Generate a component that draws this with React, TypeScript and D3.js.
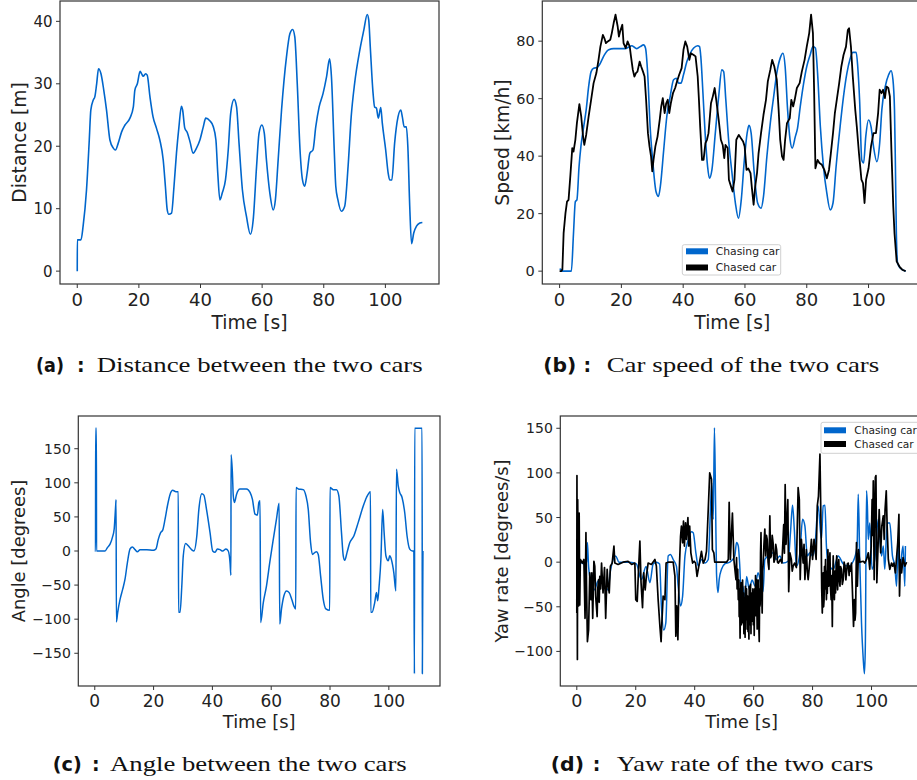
import React from 'react';
import * as d3 from 'd3';

type P = [number, number];

const BLUE = '#0066cc';
const BLACK = '#000000';
const AXIS = '#333333';

const xTicks = [0, 20, 40, 60, 80, 100];
const xDomain: P = [-5.6, 117.4];

const distTicks = [0, 10, 20, 30, 40];
const speedTicks = [0, 20, 40, 60, 80];
const angleTicks = [-150, -100, -50, 0, 50, 100, 150];
const yawTicks = [-100, -50, 0, 50, 100, 150];

const legendLabels = ['Chasing car', 'Chased car'];

const distance: P[] = [[0,0],[0.02,5],[1.2,5],[1.9,7.2],[3,13],[3.9,21],[4.4,25.8],[5.2,27.4],[5.7,27.9],[6.3,30],[6.9,32.4],[7.7,31.6],[8.6,29],[9.5,25.8],[10.6,21],[11.7,19.7],[12.4,19.4],[13.3,20.5],[14.4,22.3],[15.5,23.4],[17.1,24.5],[18.2,26.3],[18.7,29],[19.5,30],[20.4,32],[20.9,31.6],[21.4,31.2],[22.2,31.6],[22.7,31.4],[23.6,27.9],[24.6,24.7],[25.7,22.9],[26.8,21],[27.9,17.8],[28.6,13.6],[29.2,9.8],[29.7,9.1],[30.6,9.3],[31.4,13.6],[32.2,18.9],[33,23.1],[33.8,26.4],[34.2,25.8],[34.9,22.9],[35.7,22.2],[36.6,20.7],[37.6,18.9],[38.7,19.7],[39.8,21],[40.9,23.1],[41.7,24.5],[43,24.1],[44.1,23.2],[45,21],[45.6,15.7],[46.3,11.4],[47.1,12.6],[48.1,14.6],[49,19.4],[49.8,25.3],[50.9,27.5],[51.7,26.3],[52.5,20.5],[53.6,13],[54.9,8.8],[56.2,5.9],[57.1,8.2],[58.2,16.8],[59,22.1],[59.9,23.4],[60.7,22.1],[61.4,17.8],[62.5,12.5],[63.6,9.8],[64.3,11.4],[65.2,17.8],[66.3,25.8],[67.9,34.3],[69,38],[69.9,38.7],[70.6,37.5],[71.4,30],[72.3,19.4],[73.1,14.6],[73.8,13.6],[74.6,15.7],[75.5,18.9],[76.5,19.4],[77.4,23.1],[78.5,26.3],[79.8,28.5],[80.9,31.1],[81.9,34],[82.5,31.1],[83.4,19.4],[83.9,13.6],[84.6,11.4],[85.7,9.6],[86.8,10.4],[87.9,16.8],[88.9,24.7],[90,30],[91.7,35.4],[93,38.6],[94.1,41.1],[94.6,40.2],[95.1,35.9],[96,28.5],[96.5,26.3],[97.1,26.1],[97.7,24.5],[98.5,26.2],[99,23.7],[100.1,19.4],[100.9,15.7],[101.4,14.6],[102.1,14.6],[103,20.5],[104.1,24.7],[105,25.8],[105.5,24.7],[106.1,23.1],[106.8,23.1],[107.3,19.8],[107.9,10.4],[108.5,4.4],[109.2,6.1],[110.1,7.2],[111.2,7.7],[112,7.8]];

const speedChasing: P[] = [[0,0.7],[0.6,0.5],[0.8,0],[3.8,0],[4.5,13.2],[5.1,24.2],[5.6,24.8],[6.3,36.4],[6.9,43.4],[7.8,50.3],[8.6,56.1],[9.4,64.2],[10.2,69.4],[11,70.6],[12.1,70.8],[12.9,71.8],[13.7,73.5],[14.5,75.2],[15.9,77],[17.5,77.4],[19.6,77.4],[21.3,77.4],[22.3,77.9],[23.4,78.4],[24.2,77.9],[25,77.4],[26.1,78.1],[27.2,78.7],[27.8,77.6],[28.5,68.9],[29.3,50.3],[30.2,37.6],[31.2,27.7],[32,26],[32.6,29.4],[33.7,42.2],[34.7,53.8],[35.8,60.8],[36.9,66.6],[37.8,67.1],[38.5,65.4],[39.3,65.4],[40.1,68.3],[41.2,72.9],[42.3,75.8],[43.4,77.6],[44.7,78.4],[45.3,78.1],[45.7,74.7],[46.4,61.9],[47.1,48],[47.9,36.4],[48.5,32.3],[49.3,35.2],[50.4,48],[51.5,60.8],[52.5,70],[53.1,69.4],[53.8,59.6],[54.7,45.7],[55.8,34.1],[56.9,23.7],[57.9,18.4],[58.8,24.8],[59.8,38.7],[60.7,48],[61.3,50.7],[62,48],[63,34.1],[64.1,23.7],[65.2,21.9],[66,26],[67.1,39.9],[68.2,51.5],[69.3,60.8],[70.3,68.9],[71.4,74.1],[72.3,75.8],[73,71.2],[73.8,56.1],[74.6,45.7],[75.3,42.8],[76.3,46.8],[77,49.7],[77.9,57.3],[79,65.4],[80,71.2],[81.1,75.2],[82,78.1],[82.8,77.6],[83.5,68.9],[84.4,50.3],[85.4,36.4],[86.5,27.1],[87.6,21.3],[88.5,23.7],[89.5,36.4],[90.8,50.3],[91.9,60.8],[93,68.9],[94,73.7],[94.9,76.1],[96,76.1],[96.5,71.2],[97.1,59.6],[97.8,38.7],[98.4,37.6],[99.1,46.8],[100,52.6],[100.8,50.3],[101.6,43.4],[102.7,38.1],[103.6,44.5],[104.3,56.1],[105.4,64.2],[106.5,68.3],[107.3,69.7],[107.9,66.6],[108.4,56.1],[108.7,36.4],[109,13.2],[109.4,2.8],[110.3,1],[112,0]];

const speedChased: P[] = [[0,0],[0.5,0],[0.9,0.5],[1.3,13.2],[1.9,20.2],[2.4,24.2],[2.9,24.8],[3.5,33.5],[4.1,42.8],[4.5,41.6],[5.1,45.7],[5.6,51.5],[6.4,58.1],[7,53.8],[7.6,46.8],[8,43.9],[8.6,47.4],[9.4,53.8],[10.2,59.6],[11,65.4],[11.9,68.9],[12.6,73.5],[13.2,78.1],[14,82.2],[14.5,81],[15,79.3],[15.6,79.9],[16.4,80.5],[16.9,82.8],[17.5,86.3],[18.1,89.2],[18.8,85.1],[19.2,81.6],[19.6,83.4],[20.3,85.7],[20.7,79.3],[21.4,77.6],[22,79.9],[22.7,78.1],[23.1,74.7],[23.7,70],[24.2,67.7],[24.7,68.9],[25.2,69.4],[25.9,72.9],[26.4,71.2],[27,69.4],[27.5,67.7],[28,59.6],[28.6,48],[29.1,43.4],[29.6,39.9],[30,34.7],[30.4,38.7],[31,43.4],[31.7,46.8],[32.4,52.6],[32.9,57.3],[33.4,60.2],[34,55],[34.5,58.4],[35,59.6],[35.5,55],[36,58.4],[36.7,61.9],[37.4,63.7],[38,66],[38.7,68.3],[39.5,70.6],[40.1,77],[40.7,79.9],[41.3,78.1],[42,73.5],[42.5,75.8],[43.4,75.2],[44,74.7],[44.7,67.7],[45.1,59.6],[45.5,50.3],[46.1,38.7],[46.6,38.7],[47.2,44.5],[47.7,45.7],[48.2,48],[49,58.4],[49.6,60.8],[50.2,63.7],[50.7,59.6],[51.5,52.6],[52.2,45.7],[52.8,43.9],[53.3,39.3],[53.7,43.9],[54.4,42.8],[54.8,31.8],[55.5,29.4],[56,27.7],[56.6,31.8],[57.2,45.7],[58,47.4],[58.7,46.2],[59.4,45.1],[59.9,43.4],[60.5,35.2],[61.1,35.7],[61.8,34.1],[62.2,29.4],[62.8,23.1],[63.3,29.4],[63.9,34.1],[64.4,41],[65.2,48],[66,54.4],[66.8,59.6],[67.4,66],[68.2,70],[68.8,73.5],[69.5,71.2],[70.3,66.6],[70.9,56.1],[71.4,45.7],[72,39.9],[72.5,38.7],[73,45.7],[73.6,51.5],[74.5,53.2],[75,59.6],[75.6,57.3],[76.1,59.6],[76.8,63.7],[77.7,65.4],[78.4,69.4],[79.3,73.5],[80,78.1],[80.8,82.8],[81.4,89.2],[82,82.8],[82.4,61.9],[82.8,35.8],[83.5,38.7],[84.1,37.6],[84.9,37],[85.7,35.2],[86.5,32.3],[87.2,35.2],[87.8,41],[88.5,48],[89.1,55],[89.8,60.2],[90.5,65.4],[91.2,71.2],[91.9,75.2],[92.7,78.1],[93.3,83.9],[93.7,84.5],[94.3,78.1],[94.9,67.7],[95.7,56.1],[96.2,50.3],[96.9,41],[97.7,31.8],[98.2,30.6],[98.7,23.7],[99.2,31.8],[100,35.8],[100.8,43.4],[101.6,48],[102.4,48],[103.1,55],[103.6,63.1],[104.2,61.9],[104.7,63.1],[105.3,60.2],[105.8,64.2],[106.4,63.7],[106.9,60.8],[107.4,42.2],[108,22.5],[108.4,13.2],[109.1,3.4],[110,1.6],[110.9,0.5],[112,0]];

const angle: P[] = [[0,0],[0.25,0],[0.3,180],[0.55,180],[0.6,0],[3.5,0],[4.3,5],[5.2,10],[6,20],[6.6,32],[6.9,51.6],[7.1,66],[7.25,75],[7.35,-104],[7.8,-90],[8.6,-71],[9.5,-56],[10.3,-41],[11.1,-17],[12,3],[12.8,6],[13.7,2],[14.5,-1],[15.4,2],[17.7,2],[19.9,1],[20.8,3],[21.6,17],[22.4,27],[23.1,30.6],[23.9,46.7],[24.7,66],[25.6,83],[26.5,89],[27.6,87],[28.4,87],[28.5,-90],[29,-90],[29.6,-51],[30.1,-7],[30.9,11],[31.8,7.6],[33,1.7],[33.7,0],[34.7,22],[35.4,61],[36.4,84],[37.1,82],[38,61],[39.2,27],[40.1,0],[40.9,-2],[41.7,3],[42.6,2],[43.5,0],[44.6,3],[45.4,0],[46,-17],[46.3,-35.5],[46.35,141],[46.8,115],[47.1,81],[47.5,71],[48.2,83],[49.4,91],[51.6,91],[52.8,86],[53.6,76],[54.5,54],[55.3,52.6],[55.8,71],[56.2,73.6],[56.4,-105],[57.3,-76],[58.4,-51],[59.5,-17],[60.7,17],[61.8,47],[62.7,70],[62.9,-107],[63.5,-85],[64.3,-66],[65.2,-58.5],[66.1,-61],[67,-71],[67.7,-80.5],[68.35,-85],[68.45,93],[69.2,91],[70.9,90],[71.8,81],[72.6,61],[73.4,12],[74,-5],[74.9,-2],[75.4,-1],[76,-5],[76.8,-36.5],[77.7,-71],[78.6,-85],[79.9,-87],[80,93],[81.1,90],[82.2,90],[83,81],[83.9,27],[84.5,-7],[85,-13.5],[85.8,-2],[86.7,12],[88.1,22],[89.6,42],[91.3,66],[92.4,78.5],[93.75,87],[93.85,-90],[94.3,-90],[95.2,-75.6],[95.8,-61],[96.2,-73],[96.7,-51],[97.3,-12],[97.9,61],[98.4,27],[99,-7],[99.8,-14.4],[100.3,-7],[100.9,-13],[101.7,-32],[102.4,-58.5],[102.6,120],[103.2,95.5],[103.7,86],[104.5,78.5],[105.4,56.5],[106.2,22],[107.1,2.7],[108,0],[108.5,0],[108.7,-180],[108.8,180],[111.3,180],[111.4,-180],[111.6,0]];

const yawChasing: P[] = [[0,0],[1,0],[2.5,-2],[3.3,0],[3.6,22],[4,-5],[5,-25],[6,-31],[7,-22],[7.8,-19.5],[9,-25],[10.5,-31],[11.5,-8],[13.2,7],[14.3,0],[16,0],[18,0],[20.2,-2],[21.9,-19.5],[23.5,-5],[24.8,-23],[25.9,-2],[27,0],[28.1,-2],[28.7,-49],[29.5,-76],[30.2,-68],[31,7],[31.8,8.6],[32.7,3],[33.8,-4.5],[34.4,-27],[35.2,-49],[35.9,-38],[36.7,7],[37.8,25],[38.9,34],[39.5,33],[40.4,10.5],[41.2,-4.5],[42.3,3],[43.4,-1],[44.6,3],[45.4,63],[45.8,89],[46.3,48],[46.7,150.7],[47.1,63],[47.4,-12],[47.9,-34],[48.3,-19.5],[49.1,-8],[50.2,-2],[51.9,0],[53.6,7],[54.2,22],[54.8,18],[55.3,-4.5],[55.9,-49],[56.4,-27],[57,-46],[57.6,-16],[58.5,-30],[59.5,-20],[60.5,-27],[61.5,-12],[62.5,-25],[63.2,-33],[63.8,3],[64.9,7],[66.6,10.5],[67.7,3],[68.9,7],[70,-1],[71.7,1],[72.5,33],[73.2,63.7],[73.8,37],[74.5,-4.5],[75.7,10.5],[76.6,48],[77.4,40.5],[78.2,7],[79.1,10.5],[80,7],[80.8,18],[81.9,63],[83,25.5],[83.6,63],[84.2,63.7],[84.7,18],[85.3,-2],[87,-8],[88.7,7],[90.4,-2],[92.1,-4.5],[93.8,1],[95.1,18],[95.5,76],[96,3],[96.6,-68],[97.2,-109],[97.6,-125],[97.9,-94],[98.3,80],[98.6,63],[98.9,25.5],[99.4,44],[100.2,-8],[101.1,3],[102.3,48],[103.4,7],[104,18],[104.5,-8],[105.3,44],[106.2,44],[107.1,7],[107.9,-4],[108.5,-27],[109,22],[109.6,-16],[110.2,7],[110.7,18],[111.3,-27],[111.5,18]];

const yawChased: P[] = [[0,-57],[0.05,97],[0.2,-109],[0.3,70],[0.6,-49],[0.8,55],[1,-48],[1.2,3],[1.9,-1],[2.4,3],[2.8,-63],[3.1,33],[3.3,-27],[3.6,-89],[4,-76],[4.4,-12],[4.8,-42],[5.1,-12],[5.4,-63],[5.8,1],[6.1,-4.5],[6.4,-38],[6.9,-61],[7.1,-30],[7.4,-19.5],[7.6,-45],[7.8,-16],[8.1,-30],[8.4,-1],[8.9,-34.5],[9.4,-6],[9.8,-63],[10.3,-8],[10.6,-25],[11,-34.5],[11.4,-4.5],[12,-1],[12.6,18],[12.9,-1],[14,-2.6],[15.7,0],[17.4,1],[18.6,-2.6],[19.7,-1],[20,-42],[20.5,-44],[20.9,-12],[21.4,23.6],[21.8,-23],[22.3,-51],[22.7,-12],[23.2,-31],[23.6,-16],[24.2,-1],[25.3,-2.6],[26.5,3],[27,-4.5],[27.6,-42],[28.2,-72],[28.6,-89],[28.8,-72],[29.3,-38],[29.9,-42],[30.3,-1],[31,0],[32.7,0],[33.3,-16],[33.6,-83],[33.9,-49],[34.3,-87],[34.7,-16],[35.2,29],[35.5,40.5],[35.9,21.7],[36.2,46],[36.5,18],[36.9,44],[37.2,25.5],[37.7,50],[38,18],[38.3,40.5],[38.7,10.5],[39.3,-1],[39.8,1],[40.3,-1],[40.8,-16],[41.4,-4.5],[42.3,12],[42.9,-1],[43.5,3],[44,12],[44.6,59],[45.1,100],[45.7,93],[46,14],[46.5,10.5],[46.8,0],[48.5,0],[50.8,0],[51.4,3],[51.7,67],[52.1,3],[52.8,55],[53.3,3],[54,-19.5],[54.2,5],[54.4,-30],[54.6,-8],[54.8,-42],[55,-20],[55.1,-61],[55.25,-30],[55.4,-85],[55.55,-40],[55.7,-23],[55.85,-70],[56,-35],[56.1,-68],[56.25,-20],[56.4,-55],[56.55,-34.5],[56.7,-80],[56.8,-72],[56.95,-40],[57.1,-84],[57.2,-27],[57.35,-60],[57.5,-64.5],[57.6,-30],[57.8,-75],[57.95,-38],[58.1,-77.6],[58.25,-45],[58.4,-86],[58.5,-27],[58.65,-70],[58.8,-61],[58.95,-25],[59.1,-80],[59.2,-34.5],[59.35,-50],[59.6,-66],[59.75,-30],[59.9,-70],[60.05,-38],[60.2,-82],[60.35,-30],[60.5,-57],[60.65,-15],[60.8,-60],[61,-19.5],[61.2,-75],[61.4,-46],[61.55,-20],[61.75,-70],[61.9,-89],[62.05,-30],[62.2,-49],[62.35,10],[62.5,33],[62.7,-30],[62.9,-57],[63.05,-10],[63.2,-4.5],[63.5,20],[63.8,37],[64.1,7],[64.35,30],[64.6,25.5],[64.9,0],[65.2,-8],[65.5,52],[65.75,5],[66,7],[66.3,30],[66.6,21.7],[66.9,0],[67.2,3],[67.5,20],[67.8,14],[68.1,0],[68.4,-1],[69.1,3],[69.6,-1],[70.2,42],[70.45,10],[70.7,87],[71,20],[71.2,37],[71.6,70],[71.9,-33],[72.3,10.5],[72.8,3],[73.1,-10],[73.4,-4.5],[73.9,-1],[74.5,-6],[75.1,83.6],[75.5,70],[75.8,-19.5],[76.2,25.5],[76.8,-1],[77.1,20],[77.4,-19.5],[77.9,14],[78.2,-10],[78.5,-19.5],[79,-1],[79.6,25.5],[80,3],[80.5,25.5],[81.2,3],[81.6,63],[82,74],[82.5,121],[82.9,33],[83.1,-30],[83.3,-57],[83.45,-20],[83.6,-12],[83.75,-50],[83.9,-42],[84.05,-5],[84.2,-30],[84.4,3],[84.55,-25],[84.7,-42],[84.85,-10],[85,-35],[85.2,14],[85.35,-15],[85.5,-27],[85.7,0],[85.9,10.5],[86.1,-30],[86.3,-42],[86.5,-15],[86.7,-72],[86.85,-20],[87,7],[87.2,-25],[87.4,-42],[87.6,-10],[87.8,-34.5],[88,-5],[88.2,7],[88.35,-20],[88.5,-31],[88.7,-5],[88.9,3],[89.1,-20],[89.3,-27],[89.5,-5],[89.8,-8],[90.1,-25],[90.4,-19.5],[90.7,0],[91,-4.5],[91.3,-20],[91.5,-12],[91.8,-2],[92.1,-1],[92.4,-15],[92.6,-4.5],[92.9,-10],[93.2,-1],[93.6,-40],[93.9,-72],[94.2,-42],[94.4,-65],[94.6,-57],[94.9,22],[95.2,-27],[95.6,14],[96,0],[97.2,1],[97.7,-1],[98.3,3],[98.9,10.5],[99.4,-8],[99.9,18],[100.2,70],[100.4,30],[100.6,91],[100.9,-19.5],[101.1,52],[101.3,95],[101.5,97],[101.8,-23],[102.3,25.5],[102.6,59],[103.1,10.5],[103.5,40.5],[104,52],[104.3,25.5],[104.6,59],[105,80],[105.3,40.5],[105.7,3],[106.2,-8],[106.8,-1],[107.2,-4.5],[107.6,-1],[108.1,-12],[108.9,22],[109.3,53.6],[109.5,-38],[109.8,3],[110.2,-12],[110.7,5],[111.3,-4.5],[111.9,0]];

type Series = { data: P[]; color: string; width: number; smooth: boolean };
type Box = { l: number; t: number; r: number; b: number };
type Legend = { x: number; y: number; w: number; h: number; fs: number; patchX: number; rowY: number[]; textX: number };

type PanelProps = {
  id: string;
  box: Box;
  yDomain: P;
  yTicks: number[];
  series: Series[];
  yLabel: string;
  yTickFs: number;
  xTickFs: number;
  labelFs: number;
  yLabelX: number;
  xTickBase: number;
  xLabelBase: number;
  legend?: Legend;
};

const FONT = "'DejaVu Sans', sans-serif";

function fmt(v: number) {
  return v < 0 ? '\u2212' + Math.abs(v) : String(v);
}

function Panel(p: PanelProps) {
  const { box } = p;
  const x = d3.scaleLinear().domain(xDomain).range([box.l, box.r]);
  const y = d3.scaleLinear().domain(p.yDomain).range([box.b, box.t]);
  const cx = (box.l + box.r) / 2;
  const cy = (box.t + box.b) / 2;
  return (
    <g>
      <defs>
        <clipPath id={'clip-' + p.id}>
          <rect x={box.l} y={box.t} width={box.r - box.l} height={box.b - box.t} />
        </clipPath>
      </defs>
      <g clipPath={`url(#clip-${p.id})`}>
        {p.series.map((s, i) => {
          const line = d3
            .line<P>()
            .x((d) => x(d[0]))
            .y((d) => y(d[1]))
            .curve(s.smooth ? d3.curveMonotoneX : d3.curveLinear);
          return (
            <path key={i} d={line(s.data) || ''} fill="none" stroke={s.color} strokeWidth={s.width} strokeLinejoin="round" />
          );
        })}
      </g>
      <rect x={box.l} y={box.t} width={box.r - box.l} height={box.b - box.t} fill="none" stroke={AXIS} strokeWidth={1.2} />
      {p.yTicks.map((v) => (
        <g key={'y' + v}>
          <line x1={box.l - 4} x2={box.l} y1={y(v)} y2={y(v)} stroke={AXIS} strokeWidth={1} />
          <text x={box.l - 7.5} y={y(v)} dy="0.36em" textAnchor="end" fontFamily={FONT} fontSize={p.yTickFs} fill="#222">
            {fmt(v)}
          </text>
        </g>
      ))}
      {xTicks.map((v) => (
        <g key={'x' + v}>
          <line x1={x(v)} x2={x(v)} y1={box.b} y2={box.b + 4} stroke={AXIS} strokeWidth={1} />
          <text x={x(v)} y={p.xTickBase} textAnchor="middle" fontFamily={FONT} fontSize={p.xTickFs} fill="#222">
            {fmt(v)}
          </text>
        </g>
      ))}
      <text x={cx} y={p.xLabelBase} textAnchor="middle" fontFamily={FONT} fontSize={p.labelFs} fill="#222">
        Time [s]
      </text>
      <text
        transform={`translate(${p.yLabelX},${cy}) rotate(-90)`}
        textAnchor="middle"
        fontFamily={FONT}
        fontSize={p.labelFs}
        fill="#222"
      >
        {p.yLabel}
      </text>
      {p.legend && (
        <g>
          <rect x={p.legend.x} y={p.legend.y} width={p.legend.w} height={p.legend.h} rx={2} fill="white" fillOpacity={0.85} stroke="#d0d0d0" strokeWidth={1} />
          {p.series.map((s, i) => (
            <g key={'lg' + i}>
              <rect x={p.legend!.patchX} y={p.legend!.rowY[i] - 3} width={22} height={6} fill={s.color} />
              <text x={p.legend!.textX} y={p.legend!.rowY[i]} dy="0.36em" fontFamily={FONT} fontSize={p.legend!.fs} fill="#222">
                {legendLabels[i]}
              </text>
            </g>
          ))}
        </g>
      )}
    </g>
  );
}

type CaptionProps = { x: number; labelLen: number; colonX: number; base: number; serifX: number; serifLen: number; label: string; text: string };

function Caption(c: CaptionProps) {
  return (
    <g fill="#111">
      <text x={c.x} y={c.base} fontFamily={FONT} fontWeight="bold" fontSize={19} textLength={c.labelLen} lengthAdjust="spacingAndGlyphs">
        {c.label}
      </text>
      <text x={c.colonX} y={c.base} fontFamily={FONT} fontWeight="bold" fontSize={19}>
        :
      </text>
      <text x={c.serifX} y={c.base} fontFamily="'Liberation Serif', 'DejaVu Serif', serif" fontSize={21} textLength={c.serifLen} lengthAdjust="spacingAndGlyphs">
        {c.text}
      </text>
    </g>
  );
}

export default function App() {
  return (
    <svg width={917} height={780} style={{ position: 'absolute', left: 0, top: 0, background: 'white' }}>
      <rect x={0} y={0} width={917} height={780} fill="white" />
      <Panel
        id="a"
        box={{ l: 60, t: 1, r: 439, b: 284 }}
        yDomain={[-2.06, 43.26]}
        yTicks={distTicks}
        series={[{ data: distance, color: BLUE, width: 1.6, smooth: true }]}
        yLabel="Distance [m]"
        yTickFs={15}
        xTickFs={18}
        labelFs={18.7}
        yLabelX={26}
        xTickBase={306.4}
        xLabelBase={328.5}
      />
      <Panel
        id="b"
        box={{ l: 542.3, t: 1, r: 922.3, b: 284 }}
        yDomain={[-4.47, 93.97]}
        yTicks={speedTicks}
        series={[
          { data: speedChasing, color: BLUE, width: 1.6, smooth: true },
          { data: speedChased, color: BLACK, width: 1.8, smooth: false },
        ]}
        yLabel="Speed [km/h]"
        yTickFs={14.5}
        xTickFs={18}
        labelFs={18.7}
        yLabelX={509.3}
        xTickBase={306.4}
        xLabelBase={328.5}
        legend={{ x: 682.3, y: 244.7, w: 98.4, h: 30.3, fs: 10.8, patchX: 686, rowY: [251.3, 267.5], textX: 715.7 }}
      />
      <Panel
        id="c"
        box={{ l: 78.3, t: 416, r: 440, b: 686 }}
        yDomain={[-198, 198]}
        yTicks={angleTicks}
        series={[{ data: angle, color: BLUE, width: 1.5, smooth: true }]}
        yLabel="Angle [degrees]"
        yTickFs={14}
        xTickFs={17}
        labelFs={17.9}
        yLabelX={25}
        xTickBase={707.4}
        xLabelBase={728}
      />
      <Panel
        id="d"
        box={{ l: 560.3, t: 416, r: 922.8, b: 686 }}
        yDomain={[-138.75, 163.75]}
        yTicks={yawTicks}
        series={[
          { data: yawChasing, color: BLUE, width: 1.5, smooth: true },
          { data: yawChased, color: BLACK, width: 1.7, smooth: false },
        ]}
        yLabel="Yaw rate [degrees/s]"
        yTickFs={14}
        xTickFs={17.5}
        labelFs={17.9}
        yLabelX={508.3}
        xTickBase={707.4}
        xLabelBase={728}
        legend={{ x: 821, y: 422.3, w: 100, h: 31, fs: 10.6, patchX: 824, rowY: [430.3, 444], textX: 854.3 }}
      />
      <Caption x={36} labelLen={28} colonX={77} base={372.3} serifX={96.7} serifLen={326} label="(a)" text="Distance between the two cars" />
      <Caption x={543.3} labelLen={33} colonX={583.5} base={372.3} serifX={606.7} serifLen={272.6} label="(b)" text="Car speed of the two cars" />
      <Caption x={52.7} labelLen={29} colonX={92} base={771} serifX={110} serifLen={296.7} label="(c)" text="Angle between the two cars" />
      <Caption x={550.7} labelLen={33.3} colonX={592.7} base={771} serifX={616.7} serifLen={256.6} label="(d)" text="Yaw rate of the two cars" />
    </svg>
  );
}
